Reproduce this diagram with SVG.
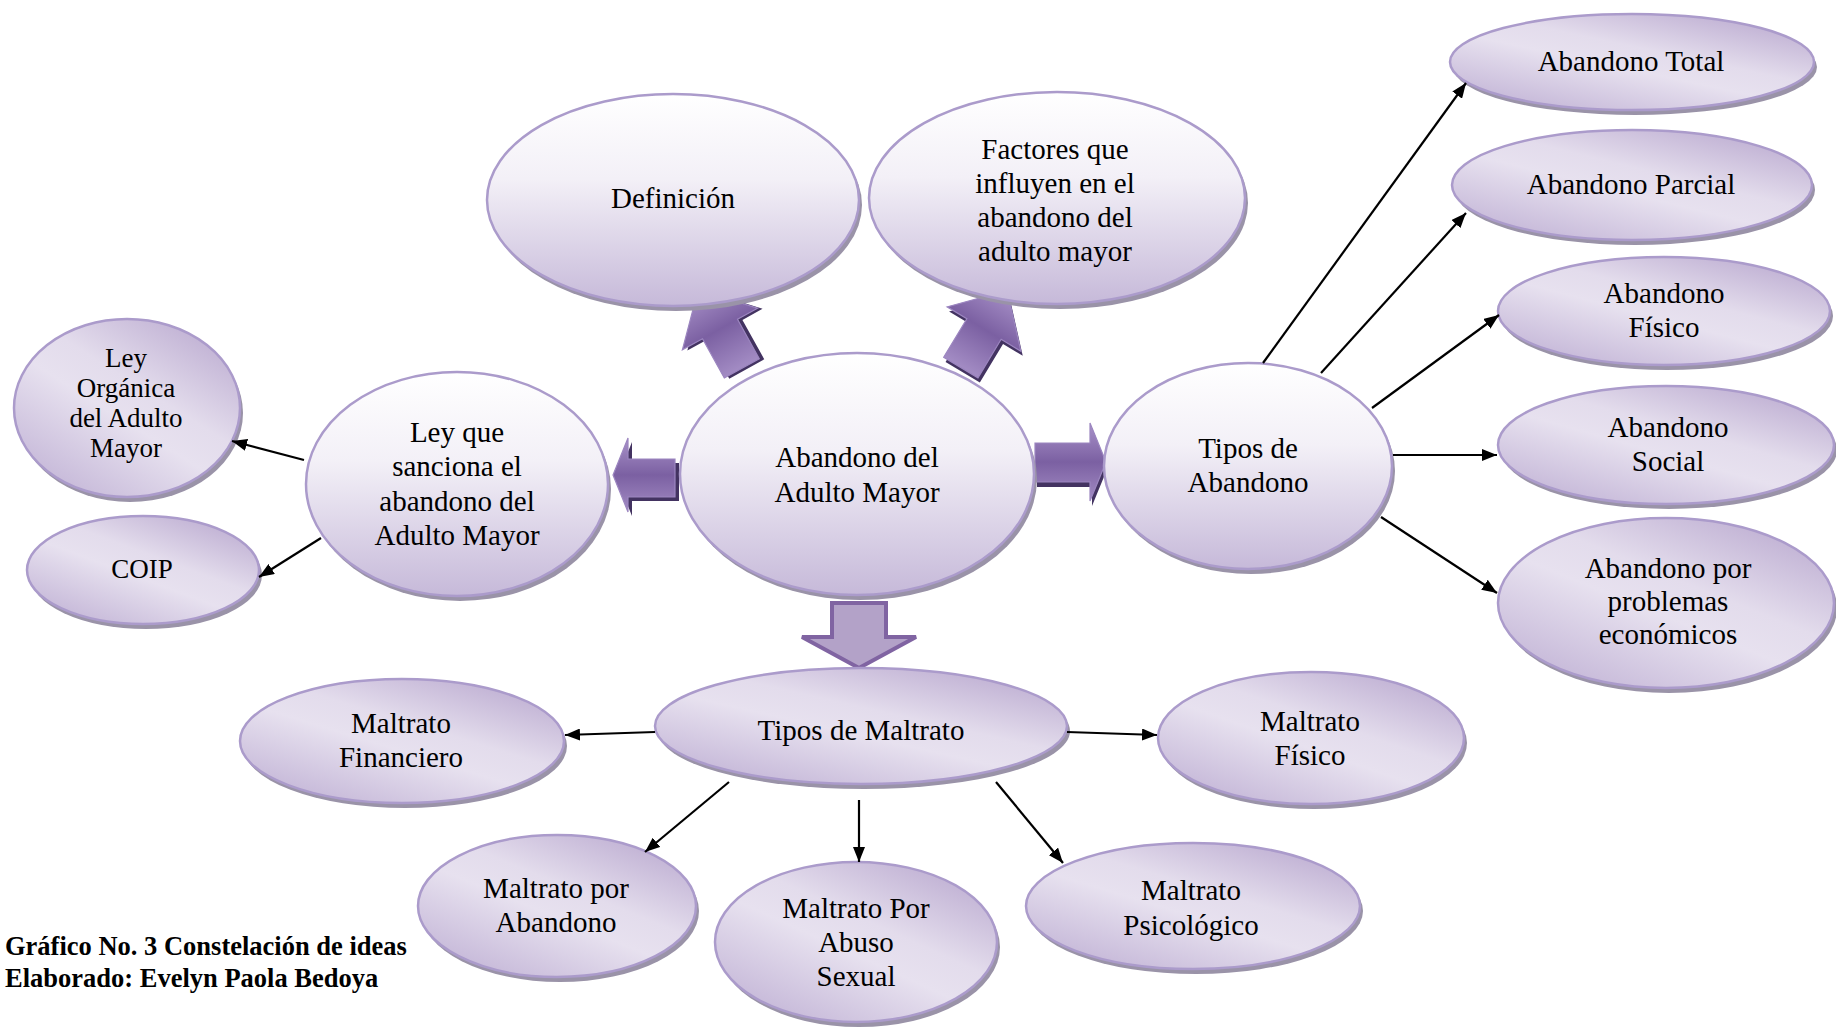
<svg xmlns="http://www.w3.org/2000/svg" width="1836" height="1027" viewBox="0 0 1836 1027">
<defs>
<style>
.t{font-family:"Liberation Serif","Times New Roman",serif;font-size:29px;fill:#000;text-anchor:middle}
.ts{font-size:27px}
.cap{font-family:"Liberation Serif","Times New Roman",serif;font-size:26.5px;font-weight:bold;fill:#000}
.sh{fill:#9a93a8}
.big{fill:url(#gBig);stroke:#ab9bcb;stroke-width:2.5}
.sm{fill:url(#gSm);stroke:#ab9bcb;stroke-width:2.5}
.con{stroke:#000;stroke-width:2.2;fill:none;marker-end:url(#ah)}
.barr{fill:url(#gArr);stroke:#9c86c0;stroke-width:1.2}
.bsh{fill:#433361}
</style>
<linearGradient id="gBig" x1="0" y1="0" x2="0" y2="1">
<stop offset="0" stop-color="#ffffff"/>
<stop offset="0.4" stop-color="#f3f0f7"/>
<stop offset="1" stop-color="#c6b9d9"/>
</linearGradient>
<linearGradient id="gSm" x1="0.1" y1="1" x2="0.9" y2="0">
<stop offset="0" stop-color="#bfb0d4"/>
<stop offset="0.45" stop-color="#e7e1ef"/>
<stop offset="0.6" stop-color="#e3dcec"/>
<stop offset="1" stop-color="#b8a7ce"/>
</linearGradient>
<linearGradient id="gArr" x1="0" y1="0" x2="0" y2="1">
<stop offset="0" stop-color="#a992c9"/>
<stop offset="0.5" stop-color="#7b60a2"/>
<stop offset="1" stop-color="#a38cc4"/>
</linearGradient>
<marker id="ah" markerUnits="userSpaceOnUse" markerWidth="15" markerHeight="12" refX="15" refY="6" orient="auto">
<path d="M0,0 L15,6 L0,12 Z" fill="#000"/>
</marker>
</defs>
<rect width="1836" height="1027" fill="#fff"/>

<g id="block-arrows">
<g transform="translate(720,329) rotate(-29)">
<path class="bsh" transform="translate(4,3)" d="M-20 45 L-20 0 L-43 0 L0 -45 L43 0 L20 0 L20 45 Z"/>
<path class="barr" d="M-20 45 L-20 0 L-43 0 L0 -45 L43 0 L20 0 L20 45 Z"/>
</g>
<g transform="translate(984,329) rotate(31)">
<path class="bsh" transform="translate(4,3)" d="M-20 45 L-20 0 L-43 0 L0 -45 L43 0 L20 0 L20 45 Z"/>
<path class="barr" d="M-20 45 L-20 0 L-43 0 L0 -45 L43 0 L20 0 L20 45 Z"/>
</g>
<path class="bsh" transform="translate(4,4)" d="M675 459 L628 459 L628 438 L613 475 L628 512 L628 497 L675 497 Z"/>
<path class="barr" d="M675 459 L628 459 L628 438 L613 475 L628 512 L628 497 L675 497 Z"/>
<path class="bsh" transform="translate(2,5)" d="M1035 443 L1090 443 L1090 423 L1106 462 L1090 501 L1090 482 L1035 482 Z"/>
<path class="barr" d="M1035 443 L1090 443 L1090 423 L1106 462 L1090 501 L1090 482 L1035 482 Z"/>
<path d="M832 603 L886 603 L886 637 L916 637 L859 668 L802 637 L832 637 Z" fill="#b3a2c8" stroke="#8064a2" stroke-width="4" stroke-linejoin="miter"/>
</g>

<g id="definicion">
<ellipse class="sh" cx="676" cy="205" rx="186" ry="106"/>
<ellipse class="big" cx="673" cy="200" rx="186" ry="106"/>
<text class="t" x="673" y="208">Definición</text>
</g>
<g id="factores">
<ellipse class="sh" cx="1060" cy="203" rx="188" ry="106"/>
<ellipse class="big" cx="1057" cy="198" rx="188" ry="106"/>
<text class="t" x="1055" y="159">Factores que</text>
<text class="t" x="1055" y="193">influyen en el</text>
<text class="t" x="1055" y="227">abandono del</text>
<text class="t" x="1055" y="261">adulto mayor</text>
</g>
<g id="central">
<ellipse class="sh" cx="860" cy="479" rx="177" ry="121"/>
<ellipse class="big" cx="857" cy="474" rx="177" ry="121"/>
<text class="t" x="857" y="467">Abandono del</text>
<text class="t" x="857" y="502">Adulto Mayor</text>
</g>
<g id="ley-sanciona">
<ellipse class="sh" cx="460" cy="489" rx="151" ry="112"/>
<ellipse class="big" cx="457" cy="484" rx="151" ry="112"/>
<text class="t" x="457" y="442">Ley que</text>
<text class="t" x="457" y="476">sanciona el</text>
<text class="t" x="457" y="511">abandono del</text>
<text class="t" x="457" y="545">Adulto Mayor</text>
</g>
<g id="ley-organica">
<ellipse class="sh" cx="130" cy="413" rx="113" ry="89"/>
<ellipse class="sm" cx="127" cy="408" rx="113" ry="89"/>
<text class="t ts" x="126" y="367">Ley</text>
<text class="t ts" x="126" y="397">Orgánica</text>
<text class="t ts" x="126" y="427">del Adulto</text>
<text class="t ts" x="126" y="457">Mayor</text>
</g>
<g id="coip">
<ellipse class="sh" cx="146" cy="575" rx="116" ry="54"/>
<ellipse class="sm" cx="143" cy="570" rx="116" ry="54"/>
<text class="t ts" x="142" y="578">COIP</text>
</g>
<g id="tipos-abandono">
<ellipse class="sh" cx="1251" cy="471" rx="144" ry="103"/>
<ellipse class="big" cx="1248" cy="466" rx="144" ry="103"/>
<text class="t" x="1248" y="458">Tipos de</text>
<text class="t" x="1248" y="492">Abandono</text>
</g>
<g id="abandono-total">
<ellipse class="sh" cx="1635" cy="67" rx="182" ry="48"/>
<ellipse class="sm" cx="1632" cy="62" rx="182" ry="48"/>
<text class="t" x="1631" y="71">Abandono Total</text>
</g>
<g id="abandono-parcial">
<ellipse class="sh" cx="1635" cy="190" rx="180" ry="55"/>
<ellipse class="sm" cx="1632" cy="185" rx="180" ry="55"/>
<text class="t" x="1631" y="194">Abandono Parcial</text>
</g>
<g id="abandono-fisico">
<ellipse class="sh" cx="1667" cy="316" rx="166" ry="54"/>
<ellipse class="sm" cx="1664" cy="311" rx="166" ry="54"/>
<text class="t" x="1664" y="303">Abandono</text>
<text class="t" x="1664" y="337">Físico</text>
</g>
<g id="abandono-social">
<ellipse class="sh" cx="1669" cy="450" rx="168" ry="59"/>
<ellipse class="sm" cx="1666" cy="445" rx="168" ry="59"/>
<text class="t" x="1668" y="437">Abandono</text>
<text class="t" x="1668" y="471">Social</text>
</g>
<g id="abandono-problemas">
<ellipse class="sh" cx="1669" cy="608" rx="168" ry="85"/>
<ellipse class="sm" cx="1666" cy="603" rx="168" ry="85"/>
<text class="t" x="1668" y="578">Abandono por</text>
<text class="t" x="1668" y="611">problemas</text>
<text class="t" x="1668" y="644">económicos</text>
</g>
<g id="tipos-maltrato">
<ellipse class="sh" cx="864" cy="731" rx="206" ry="58"/>
<ellipse class="sm" cx="861" cy="726" rx="206" ry="58"/>
<text class="t" x="861" y="740">Tipos de Maltrato</text>
</g>
<g id="maltrato-financiero">
<ellipse class="sh" cx="405" cy="746" rx="162" ry="62"/>
<ellipse class="sm" cx="402" cy="741" rx="162" ry="62"/>
<text class="t" x="401" y="733">Maltrato</text>
<text class="t" x="401" y="767">Financiero</text>
</g>
<g id="maltrato-fisico">
<ellipse class="sh" cx="1314" cy="743" rx="153" ry="66"/>
<ellipse class="sm" cx="1311" cy="738" rx="153" ry="66"/>
<text class="t" x="1310" y="731">Maltrato</text>
<text class="t" x="1310" y="765">Físico</text>
</g>
<g id="maltrato-abandono">
<ellipse class="sh" cx="560" cy="911" rx="139" ry="71"/>
<ellipse class="sm" cx="557" cy="906" rx="139" ry="71"/>
<text class="t" x="556" y="898">Maltrato por</text>
<text class="t" x="556" y="932">Abandono</text>
</g>
<g id="maltrato-abuso">
<ellipse class="sh" cx="859" cy="947" rx="141" ry="80"/>
<ellipse class="sm" cx="856" cy="942" rx="141" ry="80"/>
<text class="t" x="856" y="918">Maltrato Por</text>
<text class="t" x="856" y="952">Abuso</text>
<text class="t" x="856" y="986">Sexual</text>
</g>
<g id="maltrato-psicologico">
<ellipse class="sh" cx="1196" cy="911" rx="167" ry="63"/>
<ellipse class="sm" cx="1193" cy="906" rx="167" ry="63"/>
<text class="t" x="1191" y="900">Maltrato</text>
<text class="t" x="1191" y="935">Psicológico</text>
</g>

<g id="connectors">
<path class="con" d="M304 460 L232 441"/>
<path class="con" d="M321 538 L259 577"/>
<path class="con" d="M1263 363 L1466 83"/>
<path class="con" d="M1321 373 L1466 213"/>
<path class="con" d="M1372 408 L1499 315"/>
<path class="con" d="M1393 455 L1497 455"/>
<path class="con" d="M1381 517 L1497 593"/>
<path class="con" d="M655 732 L565 735"/>
<path class="con" d="M729 782 L645 852"/>
<path class="con" d="M859 800 L859 862"/>
<path class="con" d="M996 782 L1063 863"/>
<path class="con" d="M1067 732 L1157 735"/>
</g>

<g id="caption">
<text class="cap" x="5" y="955">Gráfico No. 3 Constelación de ideas</text>
<text class="cap" x="5" y="987">Elaborado: Evelyn Paola Bedoya</text>
</g>
</svg>
